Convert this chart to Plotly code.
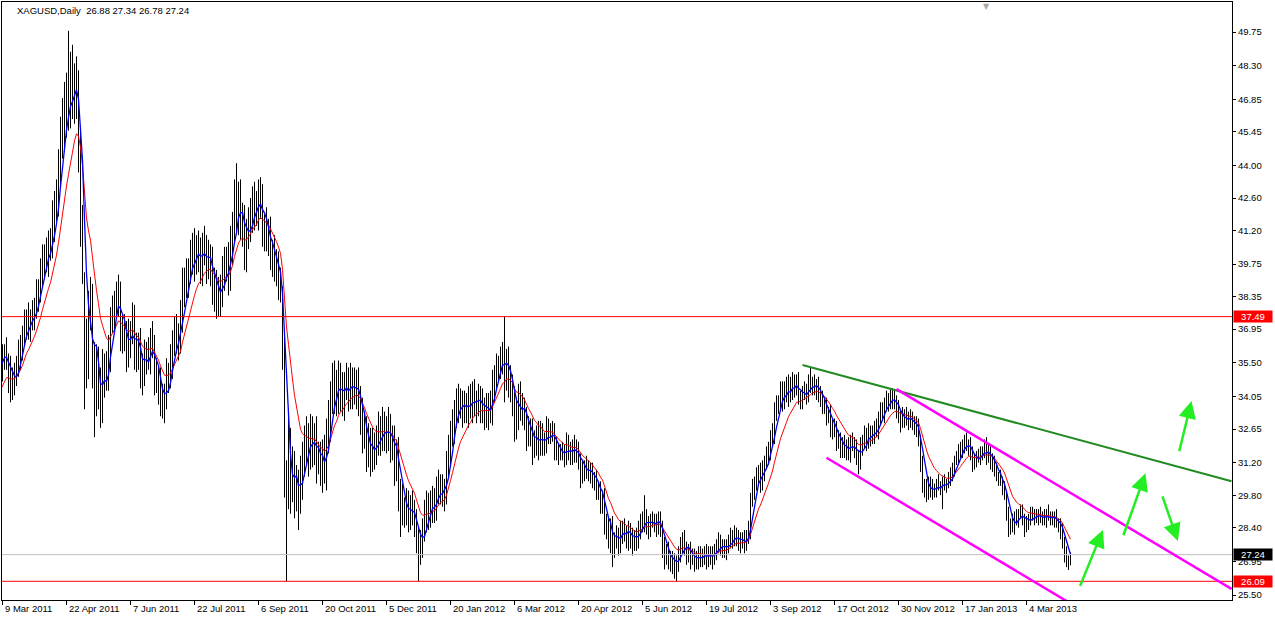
import numpy as np
import pandas as pd
import plotly.graph_objs as go


# XAGUSD daily closes. The first 13 bars sit before
# 9 Mar 2011 (off screen) so the moving averages are already running there.
n_before = 13

close = [
    32.4, 32.6, 32.7, 33.3, 33.0, 33.1, 33.9, 34.6, 34.6, 34.9, 35.4, 36.2, 35.4,
    35.7, 35.9, 35.6, 35.0, 34.4, 34.8, 34.9, 35.4, 35.8, 36.2,
    36.6, 37.2, 37.4, 37.0, 37.3, 37.6, 37.9, 38.3, 38.6, 39.4,
    39.9, 40.1, 39.9, 40.6, 40.5, 41.6, 42.3, 42.4, 43.9, 45.2,
    45.8, 46.7, 46.0, 46.6, 47.6, 46.9, 48.0, 47.2, 44.6, 42.0,
    39.3, 35.3, 35.6, 37.9, 38.3, 35.6, 34.0, 35.3, 34.6, 33.6,
    35.3, 34.9, 35.1, 36.0, 37.4, 37.6, 38.0, 38.3, 38.4, 36.9,
    36.5, 36.7, 35.9, 36.6, 36.8, 37.4, 36.0, 35.8, 36.3, 35.3,
    35.0, 35.7, 35.9, 35.8, 36.4, 36.2, 35.0, 34.8, 34.5, 33.9,
    33.7, 34.0, 34.9, 35.0, 35.6, 36.3, 36.7, 36.6, 36.5, 37.5,
    38.8, 38.9, 39.1, 39.4, 40.0, 40.4, 39.9, 40.4, 40.2, 39.6,
    40.5, 40.3, 39.8, 40.0, 39.6, 38.6, 38.9, 38.2, 38.4, 38.6,
    39.4, 39.6, 39.9, 39.3, 40.5, 41.3, 42.4, 42.0, 42.5, 41.6,
    41.4, 40.2, 41.0, 41.6, 41.8, 42.4, 42.0, 42.1, 42.8, 42.4,
    41.2, 41.3, 40.9, 41.0, 40.2, 40.1, 39.6, 39.7, 39.1, 38.6,
    35.4, 30.6, 29.8, 31.8, 30.4, 30.9, 29.9, 30.2, 29.7, 30.5,
    31.3, 31.9, 32.2, 31.6, 32.4, 31.9, 32.3, 31.4, 31.3, 31.1,
    31.5, 30.9, 32.3, 32.9, 33.9, 34.2, 34.6, 34.0, 34.8, 34.3,
    33.9, 34.5, 34.6, 34.2, 34.7, 34.4, 34.3, 34.5, 33.9, 33.3,
    32.4, 32.6, 31.7, 32.0, 31.4, 31.9, 31.8, 32.1, 32.6, 32.3,
    32.8, 32.5, 32.3, 32.7, 32.1, 32.0, 31.2, 31.6, 30.0, 29.7,
    29.2, 29.0, 29.4, 28.9, 29.3, 29.0, 28.7, 27.9, 27.3, 27.7,
    28.3, 28.9, 29.4, 28.9, 29.3, 29.6, 29.2, 30.0, 30.2, 30.1,
    29.8, 30.0, 31.0, 31.8, 32.5, 32.8, 33.3, 33.9, 33.6, 33.8,
    33.4, 33.7, 33.5, 33.9, 33.6, 34.2, 33.8, 33.7, 34.0, 33.8,
    33.4, 33.5, 33.3, 33.7, 33.4, 34.5, 34.9, 35.3, 35.3, 35.6,
    35.9, 35.0, 35.6, 34.9, 34.4, 34.0, 32.8, 33.4, 34.1, 33.7,
    33.4, 33.1, 32.4, 32.6, 32.5, 31.9, 32.1, 32.4, 32.0, 32.5,
    32.0, 31.9, 32.6, 32.5, 32.4, 32.5, 31.8, 31.7, 31.6, 31.6,
    31.7, 31.5, 32.0, 31.6, 31.8, 31.5, 31.9, 31.7, 31.3, 30.7,
    30.9, 31.0, 30.8, 30.9, 30.8, 30.4, 30.5, 30.1, 30.0, 29.5,
    29.7, 28.7, 28.3, 28.0, 28.5, 27.6, 27.9, 28.1, 27.8, 28.3,
    28.4, 28.2, 28.0, 28.3, 28.0, 27.8, 28.0, 27.9, 28.4, 28.6,
    28.7, 28.9, 28.5, 28.4, 28.7, 28.7, 28.6, 28.5, 28.8, 28.4,
    27.6, 27.2, 27.4, 27.1, 26.9, 27.0, 26.8, 26.9, 27.2, 27.7,
    27.9, 27.5, 27.3, 27.4, 27.1, 27.2, 26.9, 27.0, 27.3, 27.2,
    27.1, 27.3, 27.0, 27.3, 27.2, 27.1, 27.4, 27.6, 27.8, 27.6,
    27.5, 27.4, 27.6, 27.8, 28.0, 27.9, 28.1, 28.0, 27.7, 27.8,
    27.9, 27.7, 28.0, 28.3, 29.6, 30.1, 30.3, 30.6, 30.8, 30.4,
    30.9, 31.2, 31.5, 31.8, 32.2, 32.4, 33.5, 33.7, 33.8, 34.3,
    33.9, 34.4, 34.1, 34.6, 34.2, 34.7, 34.5, 34.6, 34.0, 33.9,
    34.2, 34.3, 34.2, 34.6, 34.5, 34.6, 34.4, 34.5, 34.2, 33.9,
    33.7, 33.6, 33.2, 33.3, 32.8, 32.6, 32.7, 32.1, 32.2, 31.8,
    32.0, 31.7, 31.9, 31.6, 32.1, 32.0, 31.8, 31.4, 31.2, 31.9,
    32.1, 32.4, 32.1, 32.5, 32.3, 32.4, 32.7, 32.6, 33.1, 33.4,
    33.3, 33.7, 33.9, 33.8, 34.1, 33.9, 33.8, 33.5, 33.2, 32.9,
    33.3, 33.0, 33.2, 32.9, 33.2, 32.9, 32.6, 32.8, 32.2, 31.2,
    30.3, 30.0, 30.2, 29.9, 30.3, 29.9, 30.0, 30.3, 30.2, 30.1,
    30.4, 30.2, 30.3, 30.5, 30.6, 30.9, 31.3, 31.4, 31.8, 31.6,
    31.9, 32.2, 31.9, 32.0, 31.5, 31.1, 31.3, 31.5, 31.4, 31.7,
    31.6, 31.9, 31.4, 31.7, 31.2, 31.3, 30.9, 30.6, 30.5, 30.4,
    30.1, 29.8, 29.0, 28.4, 28.6, 28.4, 28.9, 28.7, 29.0, 29.1,
    28.8, 28.6, 28.5, 28.8, 28.9, 29.0, 28.9, 28.8, 29.0, 28.8,
    28.9, 28.7, 29.0, 28.9, 28.8, 28.7, 28.9, 28.6, 28.5, 28.3,
    27.8, 27.3, 27.0, 26.88, 27.24,
]

# how far each bar's high reaches above its body
wick_up = [
    0.4, 0.3, 0.5, 0.4, 0.6, 0.3, 0.5, 0.4, 0.6, 0.5, 0.4, 0.5, 0.6,
    0.6, 0.4, 0.7, 0.3, 0.8, 0.5, 0.6, 0.4, 0.7, 0.5,
    0.5, 0.6, 0.4, 0.7, 0.5, 0.6, 0.4, 0.8, 0.5, 0.6,
    0.7, 0.5, 0.8, 0.6, 0.7, 0.9, 0.6, 1.0, 0.8, 0.9,
    1.1, 0.9, 1.3, 3.2, 1.3, 1.6, 0.4, 0.7, 0.9, 0.8,
    0.3, 0.1, 1.8, 0.7, 0.9, 0.6, 0.8, 1.0, 0.9, 0.7,
    0.8, 0.6, 0.9, 0.7, 0.5, 0.8, 0.6, 0.7, 0.9, 0.6,
    0.7, 0.9, 0.6, 0.8, 0.5, 0.7, 0.6, 0.8, 0.5, 0.7,
    0.6, 0.8, 0.5, 0.7, 0.6, 0.9, 0.5, 0.7, 0.6, 0.8,
    0.7, 0.6, 0.8, 0.5, 0.7, 0.6, 0.8, 0.9, 0.6, 0.7,
    0.8, 0.7, 0.9, 0.6, 0.8, 0.7, 0.9, 0.6, 0.8, 0.7,
    0.6, 0.9, 0.7, 0.8, 0.6, 0.9, 0.7, 0.6, 0.8, 0.7,
    0.7, 0.9, 0.6, 0.8, 0.9, 0.7, 1.0, 1.7, 0.8, 0.9,
    0.8, 0.9, 0.7, 0.6, 0.8, 0.7, 0.9, 0.8, 0.6, 0.7,
    0.8, 0.6, 0.9, 0.7, 0.8, 0.6, 0.9, 0.7, 0.6, 0.5,
    0.2, 1.2, 0.7, 1.4, 0.9, 1.0, 0.8, 0.9, 0.7, 1.0,
    0.8, 0.9, 1.0, 0.7, 0.9, 0.8, 0.6, 0.9, 0.7, 0.8,
    0.7, 0.9, 0.8, 1.0, 0.8, 1.3, 1.0, 0.6, 0.8, 0.7,
    0.8, 0.6, 0.9, 0.7, 0.8, 0.6, 0.9, 0.7, 0.8, 0.6,
    0.7, 0.8, 0.6, 0.9, 0.7, 0.8, 0.6, 0.7, 0.8, 0.6,
    0.8, 0.6, 0.7, 0.9, 0.6, 0.7, 0.8, 0.6, 0.7, 0.5,
    0.6, 0.5, 0.7, 0.6, 0.5, 0.7, 0.6, 0.5, 0.5, 0.6,
    0.5, 0.7, 0.6, 0.5, 0.7, 0.6, 0.5, 0.6, 0.7, 0.5,
    0.6, 0.5, 0.7, 0.6, 0.5, 0.7, 0.6, 0.5, 0.7, 0.6,
    0.5, 0.6, 0.5, 0.6, 0.7, 0.5, 0.6, 0.5, 0.6, 0.5,
    0.6, 0.5, 0.7, 0.5, 0.6, 0.7, 0.5, 0.6, 0.5, 0.6,
    0.5, 1.59, 0.5, 0.6, 0.5, 0.6, 0.5, 0.6, 0.5, 0.6,
    0.5, 0.6, 0.5, 0.6, 0.5, 0.6, 0.5, 0.4, 0.6, 0.5,
    0.4, 0.5, 0.6, 0.5, 0.4, 0.5, 0.4, 0.5, 0.3, 0.4,
    0.4, 0.3, 0.5, 0.4, 0.3, 0.4, 0.5, 0.3, 0.4, 0.3,
    0.4, 0.3, 0.5, 0.4, 0.3, 0.4, 0.3, 0.4, 0.3, 0.4,
    0.3, 0.4, 0.3, 0.5, 0.3, 0.4, 0.3, 0.4, 0.3, 0.4,
    0.3, 0.4, 0.3, 0.4, 0.3, 0.4, 0.3, 0.4, 0.3, 0.4,
    0.4, 0.9, 0.3, 0.4, 0.3, 0.4, 0.3, 0.4, 0.3, 0.3,
    0.3, 0.4, 0.3, 0.4, 0.3, 0.4, 0.3, 0.3, 0.4, 0.3,
    0.3, 0.4, 0.3, 0.3, 0.4, 0.3, 0.3, 0.4, 0.3, 0.3,
    0.3, 0.3, 0.4, 0.3, 0.3, 0.4, 0.3, 0.3, 0.4, 0.3,
    0.3, 0.4, 0.3, 0.3, 0.4, 0.3, 0.4, 0.3, 0.3, 0.4,
    0.3, 0.4, 0.3, 0.4, 0.3, 0.4, 0.3, 0.4, 0.3, 0.4,
    0.4, 0.3, 0.4, 0.3, 0.4, 0.5, 0.3, 0.4, 0.3, 0.4,
    0.4, 0.3, 0.5, 0.4, 0.3, 0.4, 0.3, 0.4, 0.5, 0.3,
    0.3, 0.4, 0.3, 0.4, 0.7, 0.3, 0.4, 0.3, 0.4, 0.3,
    0.4, 0.3, 0.4, 0.3, 0.4, 0.3, 0.4, 0.3, 0.4, 0.3,
    0.3, 0.4, 0.3, 0.4, 0.3, 0.4, 0.3, 0.4, 0.3, 0.4,
    0.3, 0.4, 0.3, 0.4, 0.3, 0.4, 0.3, 0.4, 0.3, 0.4,
    0.4, 0.3, 0.4, 0.3, 0.3, 0.3, 0.4, 0.3, 0.4, 0.3,
    0.3, 0.2, 0.4, 0.2, 0.3, 0.2, 0.3, 0.4, 0.3, 0.2,
    0.3, 0.2, 0.3, 0.4, 0.3, 0.2, 0.3, 0.2, 0.4, 0.2,
    0.2, 0.3, 0.2, 0.3, 0.4, 0.3, 0.2, 0.3, 0.2, 0.3,
    0.3, 0.2, 0.3, 0.2, 0.3, 0.4, 0.3, 0.2, 0.3, 0.2,
    0.2, 0.3, 0.4, 0.3, 0.2, 0.3, 0.2, 0.3, 0.2, 0.4,
    0.2, 0.3, 0.2, 0.3, 0.2, 0.4, 0.2, 0.3, 0.2, 0.3,
    0.3, 0.2, 0.3, 0.2, 0.4, 0.3, 0.2, 0.3, 0.2, 0.3,
    0.2, 0.3, 0.2, 0.4, 0.2, 0.3, 0.2, 0.3, 0.2, 0.3,
    0.3, 0.2, 0.3, 0.2, 0.10,
]

# how far each bar's low reaches below its body
wick_down = [
    0.3, 0.5, 0.4, 0.3, 0.5, 0.4, 0.3, 0.6, 0.4, 0.3, 0.5, 0.4, 0.5,
    0.7, 0.5, 0.4, 0.8, 0.6, 0.5, 0.7, 0.4, 0.5, 0.6,
    0.6, 0.4, 0.7, 0.5, 0.6, 0.4, 0.7, 0.5, 0.6, 0.5,
    0.6, 0.8, 0.5, 0.7, 0.6, 0.5, 0.9, 0.7, 0.6, 0.8,
    0.9, 1.2, 0.8, 0.5, 1.0, 0.9, 1.1, 1.2, 0.9, 1.5,
    0.4, 1.8, 0.9, 0.8, 1.0, 1.2, 1.7, 0.8, 1.1, 0.9,
    0.7, 0.9, 0.6, 0.8, 0.9, 0.6, 0.7, 0.5, 0.8, 0.9,
    0.6, 0.5, 0.8, 0.6, 0.9, 0.5, 0.8, 0.7, 0.6, 0.9,
    0.9, 0.5, 0.7, 0.6, 0.8, 0.5, 0.9, 0.6, 0.8, 0.7,
    0.6, 0.8, 0.5, 0.7, 0.6, 0.8, 0.5, 0.7, 0.9, 0.6,
    0.7, 0.9, 0.6, 0.8, 0.5, 0.7, 0.9, 0.6, 0.8, 0.7,
    0.8, 0.6, 0.9, 0.7, 0.8, 0.6, 0.9, 0.8, 0.7, 0.9,
    0.7, 0.8, 0.6, 0.9, 0.7, 0.8, 0.6, 0.9, 1.0, 0.8,
    0.9, 0.7, 0.8, 0.6, 0.9, 0.7, 0.8, 0.6, 0.9, 0.7,
    0.7, 0.9, 0.6, 0.8, 0.7, 0.9, 0.6, 0.8, 0.9, 0.5,
    0.2, 0.9, 3.7, 0.6, 1.4, 0.9, 1.1, 0.8, 1.4, 0.7,
    0.9, 0.7, 0.8, 1.0, 0.7, 0.9, 0.8, 1.1, 0.6, 0.9,
    1.2, 0.6, 0.9, 0.7, 0.8, 0.6, 0.9, 0.8, 0.7, 0.9,
    0.7, 0.9, 0.6, 0.8, 0.7, 0.9, 0.6, 0.8, 0.7, 0.9,
    0.8, 0.6, 0.9, 0.7, 0.8, 0.6, 0.9, 0.7, 0.6, 0.8,
    0.6, 0.8, 0.7, 0.6, 0.9, 0.7, 1.0, 0.8, 0.9, 1.7,
    0.7, 0.6, 0.5, 0.7, 0.6, 0.5, 0.7, 0.6, 1.2, 0.5,
    0.6, 0.5, 0.7, 0.6, 0.5, 0.7, 0.6, 0.5, 0.6, 0.7,
    0.5, 0.7, 0.6, 0.5, 0.7, 0.6, 0.8, 0.6, 0.7, 0.5,
    0.7, 0.5, 0.6, 0.8, 0.5, 0.7, 0.6, 0.8, 0.5, 0.9,
    0.5, 0.8, 0.6, 0.7, 0.5, 0.6, 0.7, 0.5, 0.6, 0.5,
    0.6, 1.2, 0.7, 0.9, 0.6, 0.8, 0.7, 0.6, 0.8, 0.7,
    0.6, 0.5, 0.7, 0.5, 0.6, 0.8, 0.5, 0.6, 0.7, 0.5,
    0.5, 0.4, 0.3, 0.5, 0.4, 0.3, 0.5, 0.4, 0.5, 0.3,
    0.3, 0.5, 0.4, 0.3, 0.5, 0.4, 0.3, 0.5, 0.4, 0.6,
    0.4, 0.5, 0.3, 0.4, 0.5, 0.3, 0.4, 0.5, 0.4, 0.5,
    0.5, 0.6, 0.4, 0.5, 0.7, 0.9, 0.5, 0.4, 0.6, 0.5,
    0.6, 0.4, 0.5, 0.6, 0.5, 0.6, 0.4, 0.5, 0.4, 0.5,
    0.4, 0.5, 0.4, 0.5, 0.4, 0.3, 0.4, 0.5, 0.4, 0.4,
    0.5, 0.6, 0.4, 0.5, 0.4, 0.5, 0.6, 0.7, 0.4, 0.3,
    0.4, 0.3, 0.5, 0.4, 0.5, 0.3, 0.4, 0.3, 0.4, 0.5,
    0.4, 0.3, 0.4, 0.3, 0.4, 0.5, 0.3, 0.4, 0.3, 0.4,
    0.4, 0.3, 0.4, 0.3, 0.3, 0.4, 0.3, 0.4, 0.3, 0.4,
    0.3, 0.4, 0.3, 0.3, 0.4, 0.3, 0.5, 0.3, 0.4, 0.5,
    0.4, 0.5, 0.3, 0.4, 0.5, 0.3, 0.4, 0.5, 0.4, 0.3,
    0.5, 0.4, 0.3, 0.5, 0.4, 0.3, 0.5, 0.4, 0.3, 0.4,
    0.4, 0.3, 0.5, 0.4, 0.3, 0.4, 0.3, 0.5, 0.4, 0.3,
    0.4, 0.3, 0.4, 0.3, 0.5, 0.4, 0.3, 0.4, 0.3, 0.4,
    0.4, 0.3, 0.4, 0.3, 0.4, 0.3, 0.4, 0.3, 0.5, 0.3,
    0.4, 0.3, 0.4, 0.3, 0.4, 0.3, 0.4, 0.3, 0.4, 0.3,
    0.3, 0.4, 0.3, 0.4, 0.3, 0.4, 0.3, 0.4, 0.3, 0.4,
    0.2, 0.3, 0.2, 0.3, 0.2, 0.3, 0.2, 0.3, 0.3, 0.4,
    0.4, 0.3, 0.5, 0.3, 0.2, 0.3, 0.2, 0.3, 0.2, 0.3,
    0.9, 0.2, 0.3, 0.2, 0.3, 0.2, 0.3, 0.2, 0.3, 0.2,
    0.2, 0.3, 0.2, 0.4, 0.2, 0.3, 0.2, 0.3, 0.2, 0.3,
    0.3, 0.2, 0.3, 0.2, 0.3, 0.4, 0.3, 0.2, 0.3, 0.2,
    0.3, 0.2, 0.3, 0.4, 0.3, 0.2, 0.3, 0.2, 0.3, 0.2,
    0.3, 0.6, 0.3, 0.2, 0.3, 0.2, 0.4, 0.2, 0.3, 0.2,
    0.3, 0.2, 0.3, 0.2, 0.3, 0.2, 0.3, 0.2, 0.3, 0.4,
    0.3, 0.4, 0.3, 0.3, 0.10,
]

# one date label every 32 bars, starting with the first visible bar
date_labels = [
    "9 Mar 2011", "22 Apr 2011", "7 Jun 2011", "22 Jul 2011", "6 Sep 2011",
    "20 Oct 2011", "5 Dec 2011", "20 Jan 2012", "6 Mar 2012", "20 Apr 2012",
    "5 Jun 2012", "19 Jul 2012", "3 Sep 2012", "17 Oct 2012", "30 Nov 2012",
    "17 Jan 2013", "4 Mar 2013",
]
label_step = 32

price_ticks = [49.75, 48.30, 46.85, 45.45, 44.00, 42.60, 41.20, 39.75, 38.35,
               36.95, 35.50, 34.05, 32.65, 31.20, 29.80, 28.40, 26.95, 25.50]

# horizontal levels drawn on the chart (Feb 2012 high, Sep/Dec 2011 low)
levels = [37.49, 26.09]

# trend lines: bar numbers and prices of their two anchors
green_line = ([400, 614.5], [35.41, 30.40])
channel_top = ([447, 614.5], [34.37, 25.76])
channel_bottom = ([412, 540], [31.41, 24.83])

# arrows: tail bar, tail price, head bar, head price
arrows = [
    (538.5, 25.83, 550.2, 28.30),
    (560.2, 28.01, 571.5, 30.74),
    (579.7, 29.81, 587.7, 27.83),
    (588.2, 31.63, 594.5, 33.86),
]

FONT = "Liberation Sans"


def build_bars():
    bars = pd.DataFrame({'close': close, 'up': wick_up, 'down': wick_down})
    bars['bar'] = np.arange(len(bars)) - n_before
    bars['open'] = bars['close'].shift(1).fillna(bars['close'])
    top = bars[['open', 'close']].max(axis=1)
    bottom = bars[['open', 'close']].min(axis=1)
    bars['high'] = (top + bars['up']).round(2)
    bars['low'] = (bottom - bars['down']).round(2)
    bars['fast'] = bars['close'].rolling(5).mean()
    bars['slow'] = bars['close'].ewm(span=13, adjust=False).mean()
    return bars


def line_shape(anchors, color, width):
    xs, ys = anchors
    return dict(type='line', xref='x', yref='y', x0=xs[0], x1=xs[1],
                y0=ys[0], y1=ys[1], line=dict(color=color, width=width))


def price_tag(value, bg):
    return dict(xref='paper', x=1, xanchor='left', xshift=1,
                yref='y', y=value, yanchor='middle',
                text='%.2f' % value, showarrow=False, bgcolor=bg,
                width=38, height=11, borderpad=0,
                font=dict(family=FONT, size=9.5, color='white'))


def build_figure(bars):
    fig = go.Figure()

    # bars are thin black sticks, no open/close ticks at this zoom level
    fig.add_trace(go.Ohlc(
        x=bars['bar'], open=bars['open'], high=bars['high'],
        low=bars['low'], close=bars['close'],
        increasing=dict(line=dict(color='black', width=1)),
        decreasing=dict(line=dict(color='black', width=1)),
        tickwidth=0, hoverinfo='skip', showlegend=False))

    fig.add_trace(go.Scatter(x=bars['bar'], y=bars['slow'], mode='lines',
                             line=dict(color='#FF0000', width=1),
                             hoverinfo='skip', showlegend=False))
    fig.add_trace(go.Scatter(x=bars['bar'], y=bars['fast'], mode='lines',
                             line=dict(color='#0000FF', width=1.3),
                             hoverinfo='skip', showlegend=False))

    last = bars.iloc[-1]

    shapes = []
    for level in levels:
        shapes.append(dict(type='line', xref='paper', x0=0, x1=1, yref='y',
                           y0=level, y1=level,
                           line=dict(color='#FF0000', width=1)))
    shapes.append(dict(type='line', xref='paper', x0=0, x1=1, yref='y',
                       y0=last['close'], y1=last['close'],
                       line=dict(color='#C0C0C0', width=1)))
    shapes.append(line_shape(green_line, '#228B22', 2))
    shapes.append(line_shape(channel_top, '#FF00FF', 2.5))
    shapes.append(line_shape(channel_bottom, '#FF00FF', 2.5))

    annotations = []
    for k, label in enumerate(date_labels):
        annotations.append(dict(xref='x', x=k * label_step, xanchor='left',
                                xshift=1, yref='paper', y=0, yanchor='top',
                                yshift=-2, text=label, showarrow=False,
                                borderpad=0,
                                font=dict(family=FONT, size=9.5, color='black')))

    for tail_x, tail_y, head_x, head_y in arrows:
        annotations.append(dict(xref='x', yref='y', x=head_x, y=head_y,
                                axref='x', ayref='y', ax=tail_x, ay=tail_y,
                                text='', showarrow=True, arrowhead=2,
                                arrowsize=1.4, arrowwidth=2.5,
                                arrowcolor='#22EE22', standoff=0))

    annotations.append(price_tag(levels[0], '#FF0000'))
    annotations.append(price_tag(last['close'], 'black'))
    annotations.append(price_tag(levels[1], '#FF0000'))

    title = 'XAGUSD,Daily\u00a0\u00a0%.2f %.2f %.2f %.2f' % (
        last['open'], last['high'], last['low'], last['close'])
    annotations.append(dict(xref='paper', x=0, xanchor='left', xshift=14,
                            yref='paper', y=1, yanchor='top', yshift=-2,
                            text=title, showarrow=False, borderpad=0,
                            font=dict(family=FONT, size=9.5, color='black')))
    # chart-shift marker at the top edge
    annotations.append(dict(xref='paper', x=0.8008, xanchor='center',
                            yref='paper', y=1, yanchor='top', yshift=1,
                            text='\u25bc', showarrow=False, borderpad=0,
                            font=dict(family='DejaVu Sans', size=8,
                                      color='#A8A8A8')))

    fig.update_layout(
        width=1275, height=617,
        margin=dict(l=2, r=43, t=2, b=17),
        paper_bgcolor='white', plot_bgcolor='white',
        showlegend=False, hovermode=False,
        shapes=shapes, annotations=annotations,
        # a quarter-bar offset puts every 1px stick on whole pixels
        xaxis=dict(range=[-0.25, 614.75], showgrid=False, zeroline=False,
                   rangeslider=dict(visible=False),
                   tickvals=[k * label_step for k in range(len(date_labels))],
                   showticklabels=False, ticks='outside', ticklen=4,
                   tickcolor='black', showline=True, linecolor='black',
                   linewidth=1, mirror=True),
        yaxis=dict(range=[25.285, 51.042], side='right', showgrid=False,
                   zeroline=False, tickvals=price_ticks,
                   ticktext=['%.2f' % p for p in price_ticks],
                   ticks='outside', ticklen=3, tickcolor='black',
                   tickfont=dict(family=FONT, size=9.5, color='black'),
                   showline=True, linecolor='black', linewidth=1,
                   mirror=True),
    )
    return fig


def main():
    assert len(close) == len(wick_up) == len(wick_down), (
        len(close), len(wick_up), len(wick_down))
    bars = build_bars()
    fig = build_figure(bars)
    fig.write_html("out.html", config={'displayModeBar': False},
                   post_script="document.body.style.margin='0';")


if __name__ == "__main__":
    main()
